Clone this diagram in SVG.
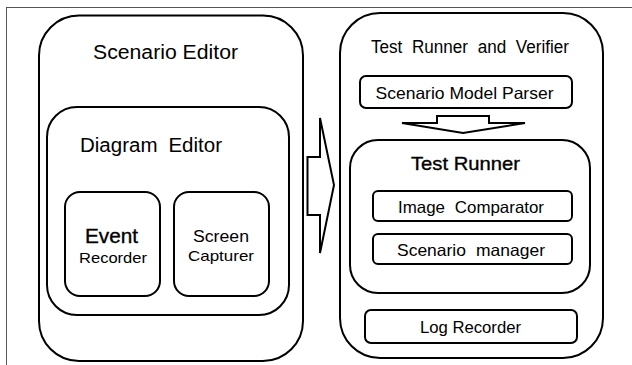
<svg xmlns="http://www.w3.org/2000/svg" width="632" height="365" viewBox="0 0 632 365">
  <style>
    .box { fill: #fff; stroke: #000; stroke-width: 2; }
    .arrow { fill: #fff; stroke: #000; stroke-width: 2; stroke-linejoin: miter; }
    text { font-family: "Liberation Sans", Arial, sans-serif; fill: #000; text-anchor: middle; }
    .heavy { stroke: #000; stroke-width: 0.35; }
    .wide { word-spacing: 5px; }
  </style>

  <!-- page frame -->
  <g id="frame" stroke="#555" stroke-width="1" fill="none">
    <line x1="6" y1="7.5" x2="632" y2="7.5"/>
    <line x1="6.5" y1="7" x2="6.5" y2="365"/>
  </g>

  <!-- left side: editor -->
  <g id="scenario-editor">
    <rect class="box" x="39" y="15.5" width="264" height="345.5" rx="40"/>
    <text x="165.5" y="59" font-size="20" textLength="145" lengthAdjust="spacingAndGlyphs">Scenario Editor</text>
  </g>
  <g id="diagram-editor">
    <rect class="box" x="47" y="107" width="242" height="208" rx="30"/>
    <text class="wide" x="151" y="152" font-size="19.5" textLength="142" lengthAdjust="spacingAndGlyphs">Diagram Editor</text>
  </g>
  <g id="event-recorder">
    <rect class="box" x="65" y="192" width="95" height="104" rx="15"/>
    <text x="111.5" y="243" font-size="20" class="heavy" textLength="53" lengthAdjust="spacingAndGlyphs">Event</text>
    <text x="113" y="263" font-size="14" textLength="68" lengthAdjust="spacingAndGlyphs">Recorder</text>
  </g>
  <g id="screen-capturer">
    <rect class="box" x="174" y="192" width="95" height="104" rx="15"/>
    <text x="221" y="242" font-size="16" textLength="56" lengthAdjust="spacingAndGlyphs">Screen</text>
    <text x="221" y="261" font-size="15" textLength="66" lengthAdjust="spacingAndGlyphs">Capturer</text>
  </g>

  <!-- right side: runner -->
  <g id="test-runner-verifier">
    <rect class="box" x="340" y="13" width="263" height="345" rx="40"/>
    <text class="wide" x="470" y="53" font-size="17.5" textLength="198" lengthAdjust="spacingAndGlyphs">Test Runner and Verifier</text>
  </g>
  <g id="scenario-model-parser">
    <rect class="box" x="360" y="76" width="212" height="32" rx="6"/>
    <text x="464.5" y="98.5" font-size="16.5" textLength="178" lengthAdjust="spacingAndGlyphs">Scenario Model Parser</text>
  </g>
  <g id="test-runner">
    <rect class="box" x="350" y="140" width="240" height="153" rx="28"/>
    <text x="465.5" y="170" font-size="19" class="heavy" textLength="109" lengthAdjust="spacingAndGlyphs">Test Runner</text>
  </g>
  <g id="image-comparator">
    <rect class="box" x="373" y="191" width="199" height="30" rx="5"/>
    <text class="wide" x="471" y="213" font-size="16.5" textLength="146" lengthAdjust="spacingAndGlyphs">Image Comparator</text>
  </g>
  <g id="scenario-manager">
    <rect class="box" x="373" y="234" width="199" height="30" rx="5"/>
    <text class="wide" x="471" y="255.5" font-size="16.5" textLength="148" lengthAdjust="spacingAndGlyphs">Scenario manager</text>
  </g>
  <g id="log-recorder">
    <rect class="box" x="365" y="310" width="212" height="33" rx="6"/>
    <text x="470.5" y="333" font-size="16" textLength="101" lengthAdjust="spacingAndGlyphs">Log Recorder</text>
  </g>

  <!-- block arrows -->
  <g id="connectors">
    <polygon class="arrow" points="307.5,157 320,157 320,118 334,185 320,253 320,215 307.5,215"/>
    <polygon class="arrow" points="437,116 489,116 489,123 525,123 463,133 402,123 437,123"/>
  </g>
</svg>
